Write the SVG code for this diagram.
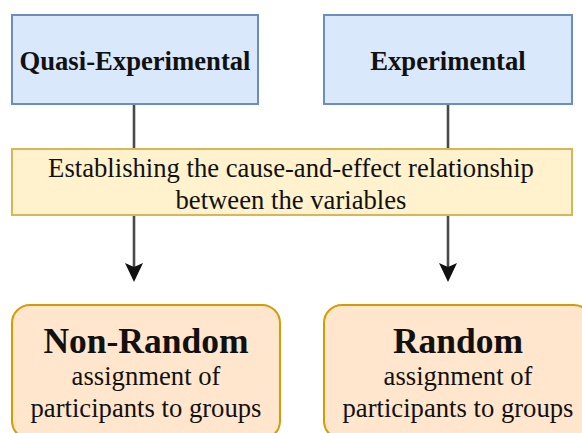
<svg xmlns="http://www.w3.org/2000/svg" width="582" height="433" viewBox="0 0 582 433">
<defs>
<style>
text{font-family:'Liberation Serif','Times New Roman',Times,'DejaVu Serif',serif;fill:#111;text-anchor:middle}
.b{font-weight:bold}
.blue{fill:#dae8fc;stroke:#6c8ebf;stroke-width:2}
.yel{fill:#fff2cc;stroke:#d6b656;stroke-width:2}
.org{fill:#ffe6cc;stroke:#d79b00;stroke-width:2}
.ln{stroke:#4a4a4a;stroke-width:2.6;fill:none}
.hd{fill:#111}
</style>
</defs>
<rect width="582" height="433" fill="#fff"/>
<g id="connectors">
<line class="ln" x1="134" y1="104" x2="134" y2="150"/>
<line class="ln" x1="448" y1="104" x2="448" y2="150"/>
<line class="ln" x1="134" y1="215" x2="134" y2="270"/>
<line class="ln" x1="448" y1="215" x2="448" y2="270"/>
<path class="hd" d="M134 282 L125 263 L134 267 L143 263 Z"/>
<path class="hd" d="M448 282 L439 263 L448 267 L457 263 Z"/>
</g>
<g id="quasi">
<rect class="blue" x="12" y="15" width="246" height="89"/>
<text class="b" x="135" y="70" font-size="26.67" font-family="Liberation Serif, serif">Quasi-Experimental</text>
</g>
<g id="experimental">
<rect class="blue" x="324" y="15" width="248" height="89"/>
<text class="b" x="448" y="70" font-size="26.67" font-family="Liberation Serif, serif">Experimental</text>
</g>
<g id="cause">
<rect class="yel" x="12" y="149" width="560" height="66"/>
<text font-size="26.67" font-family="Liberation Serif, serif"><tspan x="291" y="177">Establishing the cause-and-effect relationship</tspan><tspan x="291" y="209">between the variables</tspan></text>
</g>
<g id="nonrandom">
<rect class="org" x="12" y="305" width="268" height="134" rx="18"/>
<text class="b" x="146" y="353" font-size="35.5" font-family="Liberation Serif, serif">Non-Random</text>
<text font-size="26.67" font-family="Liberation Serif, serif"><tspan x="146" y="385">assignment of</tspan><tspan x="146" y="417">participants to groups</tspan></text>
</g>
<g id="random">
<rect class="org" x="324" y="305" width="268" height="134" rx="18"/>
<text class="b" x="458" y="353" font-size="35.5" font-family="Liberation Serif, serif">Random</text>
<text font-size="26.67" font-family="Liberation Serif, serif"><tspan x="458" y="385">assignment of</tspan><tspan x="458" y="417">participants to groups</tspan></text>
</g>
</svg>
